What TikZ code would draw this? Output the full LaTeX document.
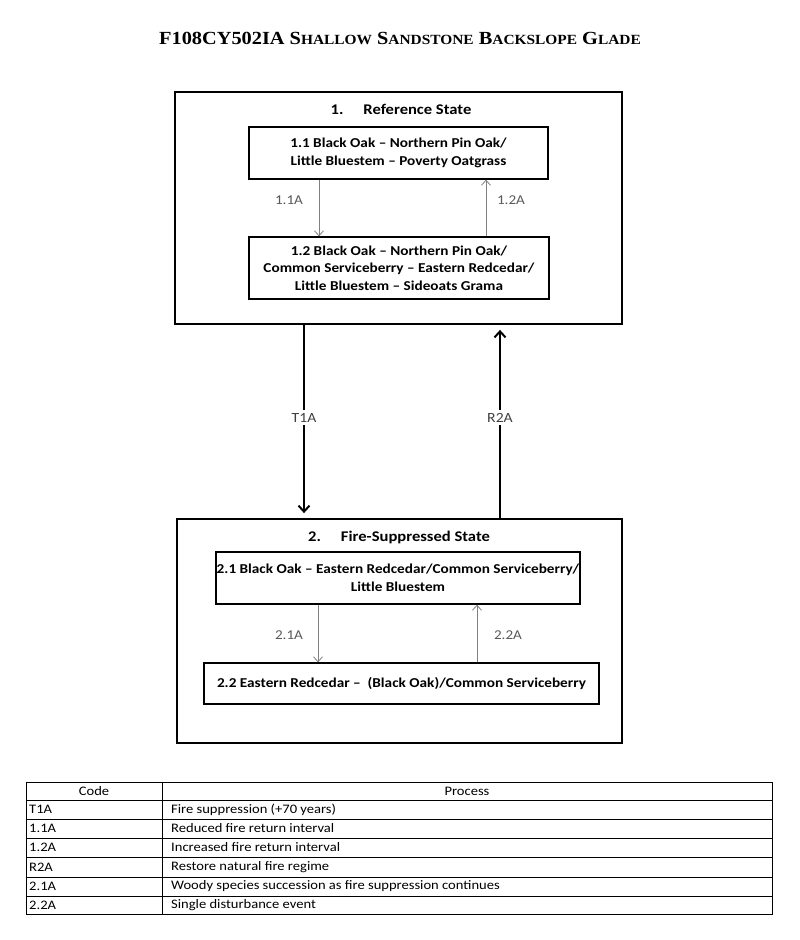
\documentclass[tikz,border=0pt]{standalone}
\usepackage{fontspec}
\setmainfont{Carlito}[FakeStretch=1.12]
\newfontfamily\titlefont{Liberation Serif}[FakeStretch=1.1]
\usetikzlibrary{arrows.meta}
\newcommand\tsm[1]{{\fontsize{14}{16}\selectfont #1}}
\definecolor{arrgray}{HTML}{808080}
\definecolor{lblgray}{HTML}{595959}
\definecolor{biggray}{HTML}{404040}
\tikzset{
  statebox/.style={draw, line width=1.8pt, inner sep=0pt},
  commbox/.style={draw, line width=1.3pt, align=center, inner sep=0pt,
    font=\bfseries\fontsize{13.6}{17.5}\selectfont},
  smallarrow/.style={draw=arrgray, line width=0.8pt, -{Straight Barb[length=5pt,width=9pt]}},
  bigarrow/.style={line width=2pt, -{Straight Barb[length=6pt,width=11pt]}, shorten >=5pt},
  smalllbl/.style={font=\fontsize{13.5}{15}\selectfont, text=lblgray, inner sep=0pt},
  biglbl/.style={font=\fontsize{14}{16}\selectfont, text=biggray, fill=white, inner sep=3pt},
  statetitle/.style={font=\bfseries\fontsize{14.8}{17}\selectfont, inner sep=0pt},
  cell/.style={font=\fontsize{13}{14}\selectfont, inner sep=0pt, anchor=west},
  hcell/.style={font=\fontsize{13}{14}\selectfont, inner sep=0pt},
  tline/.style={line width=1pt}
}
\begin{document}
\begin{tikzpicture}[x=1pt,y=-1pt]
\useasboundingbox (0,0) rectangle (800,940);
\fill[white] (0,0) rectangle (800,940);

% title
\node[font=\titlefont\bfseries\fontsize{18.5}{21}\selectfont, inner sep=0pt] (title) at (400,38)
  {F108CY502IA S\tsm{HALLOW} S\tsm{ANDSTONE} B\tsm{ACKSLOPE} G\tsm{LADE}};

% state 1
\node[statebox, minimum width=447pt, minimum height=232pt] (s1) at (398.5,208) {};
\node[statetitle] (s1t) at (401,109) {1.\hspace{20pt}Reference State};
\node[commbox, minimum width=299pt, minimum height=52pt] (c11) at (398.5,153)
  {1.1 Black Oak -- Northern Pin Oak/\\Little Bluestem -- Poverty Oatgrass};
\node[commbox, minimum width=300pt, minimum height=62pt] (c12) at (399,268)
  {1.2 Black Oak -- Northern Pin Oak/\\Common Serviceberry -- Eastern Redcedar/\\Little Bluestem -- Sideoats Grama};
\coordinate (x11) at (319,0);
\coordinate (x12) at (486,0);
\draw[smallarrow] (c11.south -| x11) -- (c12.north -| x11);
\draw[smallarrow] (c12.north -| x12) -- (c11.south -| x12);
\node[smalllbl] (l11) at (289,200) {1.1A};
\node[smalllbl] (l12) at (511,200) {1.2A};

% state 2
\node[statebox, minimum width=445pt, minimum height=224pt] (s2) at (399.5,631) {};
\node[statetitle] (s2t) at (399,537) {2.\hspace{20pt}Fire-Suppressed State};
\node[commbox, minimum width=364pt, minimum height=52pt] (c21) at (398,578)
  {2.1 Black Oak -- Eastern Redcedar/Common Serviceberry/\\Little Bluestem};
\node[commbox, minimum width=395pt, minimum height=41pt] (c22) at (401.5,683.5)
  {2.2 Eastern Redcedar --~ (Black Oak)/Common Serviceberry};
\coordinate (x21) at (318,0);
\coordinate (x22) at (477,0);
\draw[smallarrow] (c21.south -| x21) -- (c22.north -| x21);
\draw[smallarrow] (c22.north -| x22) -- (c21.south -| x22);
\node[smalllbl] (l21) at (289,635) {2.1A};
\node[smalllbl] (l22) at (508,635) {2.2A};

% transitions
\coordinate (xt) at (304,0);
\coordinate (xr) at (500,0);
\draw[bigarrow] (s1.south -| xt) -- node[biglbl, pos=0.48] (lt1) {T1A} (s2.north -| xt);
\draw[bigarrow] (s2.north -| xr) -- node[biglbl, pos=0.52] (lr2) {R2A} (s1.south -| xr);

% table
\draw[tline] (26,782) rectangle (772,914);
\foreach \yy in {800,819,838,857,877,896} \draw[tline] (26,\yy) -- (772,\yy);
\draw[tline] (162,782) -- (162,914);
\node[hcell] (hcode) at (94,791) {Code};
\node[hcell] (hproc) at (467,791) {Process};
\node[cell] (r1a) at (29,809.5) {T1A};
\node[cell] (r1b) at (171,809.5) {Fire suppression (+70 years)};
\node[cell] (r2a) at (29,828.5) {1.1A};
\node[cell] (r2b) at (171,828.5) {Reduced fire return interval};
\node[cell] (r3a) at (29,847.5) {1.2A};
\node[cell] (r3b) at (171,847.5) {Increased fire return interval};
\node[cell] (r4a) at (29,867) {R2A};
\node[cell] (r4b) at (171,867) {Restore natural fire regime};
\node[cell] (r5a) at (29,886.5) {2.1A};
\node[cell] (r5b) at (171,886.5) {Woody species succession as fire suppression continues};
\node[cell] (r6a) at (29,905) {2.2A};
\node[cell] (r6b) at (171,905) {Single disturbance event};
\end{tikzpicture}
\end{document}
